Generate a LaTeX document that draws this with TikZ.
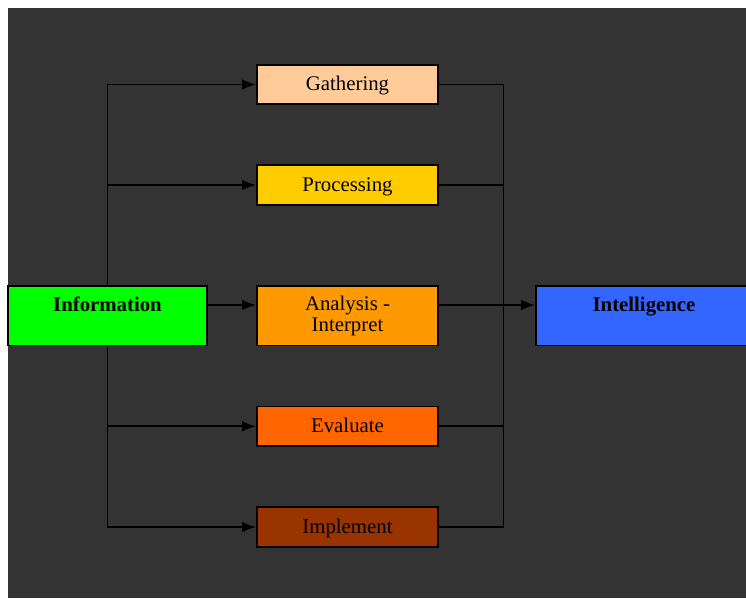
\documentclass[tikz,border=0pt]{standalone}
\usepackage{fontspec}
\setmainfont{Liberation Serif}
\usetikzlibrary{arrows.meta}

\begin{document}
\begin{tikzpicture}[x=1pt,y=-1pt,>={Latex[length=14pt,width=10.5pt]}]
\definecolor{fond}{HTML}{333333}
\definecolor{peche}{HTML}{ffcc99}
\definecolor{jaune}{HTML}{ffcc00}
\definecolor{orange}{HTML}{ff9900}
\definecolor{orangefonce}{HTML}{ff6600}
\definecolor{brun}{HTML}{993300}
\definecolor{vert}{HTML}{00ff00}
\definecolor{bleu}{HTML}{3366ff}
\tikzset{
  boite/.style={draw=black,line width=1.7pt,minimum width=181pt,minimum height=39.5pt,
    inner sep=0pt,font=\fontsize{20.8}{20.7}\selectfont,text height=14pt,text depth=2pt},
  grande/.style={draw=black,line width=1.7pt,minimum height=59.5pt,inner sep=0pt,
    font=\fontsize{20.8}{20.7}\selectfont\bfseries,text height=14pt,text depth=22pt},
  fil/.style={line width=1.7pt,draw=black}
}

\useasboundingbox (0,0) rectangle (746,598);
\fill[fond] (8,8) rectangle (746,598); %le fond sombre

\node[grande,fill=vert,minimum width=199pt] (info) at (107.5,315.7) {Information};
\node[grande,fill=bleu,minimum width=216pt] (intel) at (644,315.7) {Intelligence};

\node[boite,fill=peche] (gath) at (347.5,84.5) {Gathering};
\node[boite,fill=jaune] (proc) at (347.5,185) {Processing};
\node[boite,fill=orange,minimum height=59.5pt,text height=,text depth=,align=center] (anal) at (347.5,315.7) {Analysis -\\Interpret};
\node[boite,fill=orangefonce] (eval) at (347.5,426.3) {Evaluate};
\node[boite,fill=brun] (impl) at (347.5,527) {Implement};

\coordinate (jonction) at (503.5,305);

% vers les etapes
\draw[fil,->] (info.north) |- (gath.west);
\draw[fil,->] (info.north) |- (proc.west);
\draw[fil,->] ([yshift=10.7pt]info.east) -- ([yshift=10.7pt]anal.west);
\draw[fil,->] (info.south) |- (eval.west);
\draw[fil,->] (info.south) |- (impl.west);

% vers l'intelligence
\draw[fil] (gath.east) -| (jonction);
\draw[fil] (proc.east) -| (jonction);
\draw[fil] (eval.east) -| (jonction);
\draw[fil] (impl.east) -| (jonction);
\draw[fil,->] ([yshift=10.7pt]anal.east) -- ([yshift=10.7pt]intel.west);

\end{tikzpicture}
\end{document}
